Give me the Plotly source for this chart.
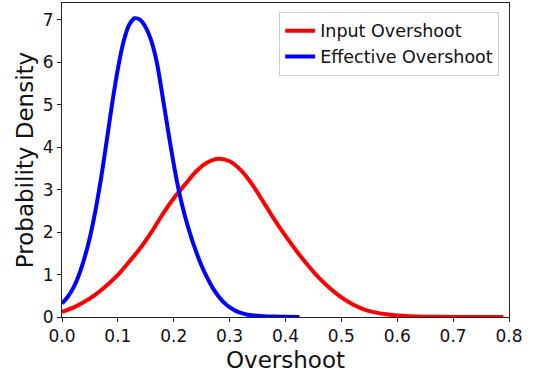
import plotly.graph_objects as go

# Input overshoot density (red)
input_x = [0.00, 0.02, 0.04, 0.06, 0.08, 0.10, 0.12, 0.14, 0.16, 0.18, 0.20, 0.22, 0.24,
           0.26, 0.28, 0.30, 0.32, 0.34, 0.36, 0.38, 0.40, 0.42, 0.44, 0.46, 0.48, 0.50,
           0.52, 0.54, 0.56, 0.58, 0.60, 0.62, 0.65, 0.70, 0.75, 0.79]
input_y = [0.12, 0.22, 0.36, 0.53, 0.74, 0.99, 1.30, 1.62, 2.00, 2.42, 2.80, 3.12, 3.43,
           3.64, 3.73, 3.67, 3.46, 3.13, 2.72, 2.30, 1.91, 1.55, 1.22, 0.92, 0.67, 0.46,
           0.30, 0.18, 0.11, 0.065, 0.035, 0.02, 0.008, 0.002, 0.0, 0.0]

# Effective overshoot density (blue)
eff_x = [0.00, 0.01, 0.02, 0.03, 0.04, 0.05, 0.06, 0.07, 0.08, 0.09, 0.10, 0.11, 0.12,
         0.13, 0.14, 0.15, 0.16, 0.17, 0.18, 0.19, 0.20, 0.21, 0.22, 0.23, 0.24, 0.25,
         0.26, 0.27, 0.28, 0.29, 0.30, 0.31, 0.32, 0.33, 0.34, 0.36, 0.38, 0.40, 0.425]
eff_y = [0.32, 0.47, 0.68, 0.98, 1.38, 1.88, 2.52, 3.28, 4.15, 5.05, 5.85, 6.48, 6.88,
         7.04, 7.00, 6.82, 6.50, 5.98, 5.20, 4.38, 3.60, 2.92, 2.38, 1.93, 1.54, 1.20,
         0.92, 0.68, 0.49, 0.34, 0.23, 0.15, 0.095, 0.06, 0.04, 0.02, 0.01, 0.004, 0.0]

x_ticks = [0.0, 0.1, 0.2, 0.3, 0.4, 0.5, 0.6, 0.7, 0.8]
y_ticks = [0, 1, 2, 3, 4, 5, 6, 7]

font = "DejaVu Sans"

fig = go.Figure()
fig.add_trace(go.Scatter(x=input_x, y=input_y, mode="lines", name="Input Overshoot",
                         line=dict(color="#ff0000", width=4, shape="spline", smoothing=0.8)))
fig.add_trace(go.Scatter(x=eff_x, y=eff_y, mode="lines", name="Effective Overshoot",
                         line=dict(color="#0000ff", width=4, shape="spline", smoothing=0.8)))

axis_common = dict(showline=True, linecolor="#222222", linewidth=1, mirror=True,
                   ticks="outside", ticklen=4, tickwidth=1, tickcolor="#222222",
                   showgrid=False, zeroline=False,
                   tickfont=dict(family=font, size=17, color="#111111"))

fig.update_xaxes(range=[0, 0.8], tickvals=x_ticks,
                 ticktext=[f"{v:.1f}" for v in x_ticks],
                 title=dict(text="Overshoot", font=dict(family=font, size=23, color="#111111"),
                            standoff=6),
                 **axis_common)
fig.update_yaxes(range=[0, 7.4], tickvals=y_ticks,
                 ticktext=[str(v) for v in y_ticks],
                 title=dict(text="Probability Density", font=dict(family=font, size=23, color="#111111"),
                            standoff=2),
                 **axis_common)

fig.update_layout(
    width=537, height=375,
    margin=dict(l=62, r=28, t=3, b=58),
    paper_bgcolor="white", plot_bgcolor="white",
    font=dict(family=font, color="#111111"),
    legend=dict(x=0.978, y=0.972, xanchor="right", yanchor="top",
                bgcolor="rgba(255,255,255,0.8)", bordercolor="#cccccc", borderwidth=1,
                font=dict(family=font, size=17.5, color="#111111"),
                itemwidth=30, tracegroupgap=0),
    showlegend=True,
)

fig.write_html("out.html")
